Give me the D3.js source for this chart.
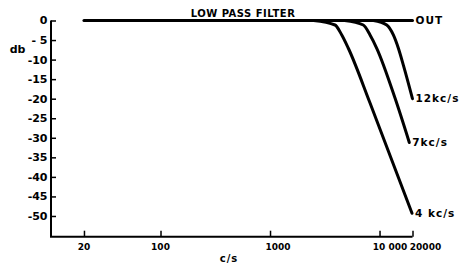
<!DOCTYPE html>
<html><head><meta charset="utf-8">
<script src="https://cdn.jsdelivr.net/npm/d3@7"></script>
<style>
html,body{margin:0;padding:0;background:#fff;}
svg text{font-family:"DejaVu Sans",sans-serif;font-weight:bold;fill:#000;}
</style></head>
<body>
<svg id="c" width="462" height="266"></svg>
<script>
// ---- data ----
const title = "LOW PASS FILTER";
const yTicks = [0, -5, -10, -15, -20, -25, -30, -35, -40, -45, -50];
const yTickLabels = ["0", "- 5", "-10", "-15", "-20", "-25", "-30", "-35", "-40", "-45", "-50"];
const xTicks = [20, 100, 1000, 10000, 20000];
const xTickLabels = ["20", "100", "1000", "10 000", "20000"];
const seriesNames = ["OUT", "12kc/s", "7kc/s", "4 kc/s"];
const outFreq = [20, 20000];
const outDb = [0, 0];
const c12Freq = [8800, 11640, 13370, 14860, 16500, 20000];
const c12Db = [0, -1.15, -3.7, -7.1, -11.4, -20];
const c7Freq = [4800, 7110, 8190, 9430, 13870, 18700];
const c7Db = [0, -1.15, -3.7, -7.1, -19.9, -31.2];
const c4Freq = [2500, 3920, 4520, 5190, 8190, 19800];
const c4Db = [0, -1.15, -3.7, -7.1, -21.1, -49.3];

// ---- layout ----
const xLabelDx = [0, 0, 8, 10.5, 13];

const svg = d3.select("#c");
const x = d3.scaleLog().domain([10, 20000]).range([51, 412.5]);
const y = d3.scaleLinear().domain([0, -55.3]).range([20.5, 236.7]);

// axes
svg.append("line").attr("x1", 51).attr("x2", 51).attr("y1", y(0)).attr("y2", y(-55.3))
  .attr("stroke", "#000").attr("stroke-width", 2);
svg.append("line").attr("x1", 50).attr("x2", x(20000)).attr("y1", y(-55.3)).attr("y2", y(-55.3))
  .attr("stroke", "#000").attr("stroke-width", 2);

const yAxis = d3.axisRight(y).tickValues(yTicks).tickSize(5).tickFormat("");
const gy = svg.append("g").attr("transform", "translate(51,0)").call(yAxis);
gy.select(".domain").remove();
gy.selectAll(".tick line").attr("stroke-width", 1.5);
yTicks.forEach((t, i) => {
  svg.append("text").attr("x", 47.5).attr("y", y(t)).attr("dy", "0.36em")
    .attr("text-anchor", "end").attr("font-size", 11).text(yTickLabels[i]);
});

const xAxis = d3.axisTop(x).tickValues(xTicks).tickSize(6).tickFormat("");
const gx = svg.append("g").attr("transform", `translate(0,${y(-55.3)})`).call(xAxis);
gx.select(".domain").remove();
gx.selectAll(".tick line").attr("stroke-width", 1.5);
xTicks.forEach((t, i) => {
  svg.append("text").attr("x", x(t) + xLabelDx[i]).attr("y", 250).attr("text-anchor", "middle")
    .attr("font-family", "'Liberation Sans',Arial,sans-serif")
    .attr("font-size", 9).text(xTickLabels[i]);
});

svg.append("text").attr("x", 229).attr("y", 262).attr("text-anchor", "middle")
  .attr("font-size", 10).attr("letter-spacing", 1).text("c/s");
svg.append("text").attr("x", 17.5).attr("y", 53).attr("text-anchor", "middle")
  .attr("font-size", 11).text("db");
svg.append("text").attr("x", 243).attr("y", 17).attr("text-anchor", "middle")
  .attr("font-size", 10).attr("letter-spacing", 0.5).text(title);

// curves
const line = d3.line().x(d => x(d[0])).y(d => y(d[1])).curve(d3.curveMonotoneX);
const series = [
  [outFreq, outDb],
  [c12Freq, c12Db],
  [c7Freq, c7Db],
  [c4Freq, c4Db]
];
series.forEach(([f, db], i) => {
  const pts = f.map((v, j) => [v, db[j]]);
  svg.append("path").attr("d", line(pts)).attr("fill", "none")
    .attr("stroke", "#000").attr("stroke-width", 3).attr("stroke-linecap", "round");
  const last = pts[pts.length - 1];
  svg.append("text").attr("x", x(last[0]) + 3).attr("y", y(last[1])).attr("dy", "0.36em")
    .attr("font-size", 10.5).attr("letter-spacing", 1).text(seriesNames[i]);
});
</script>
</body></html>
